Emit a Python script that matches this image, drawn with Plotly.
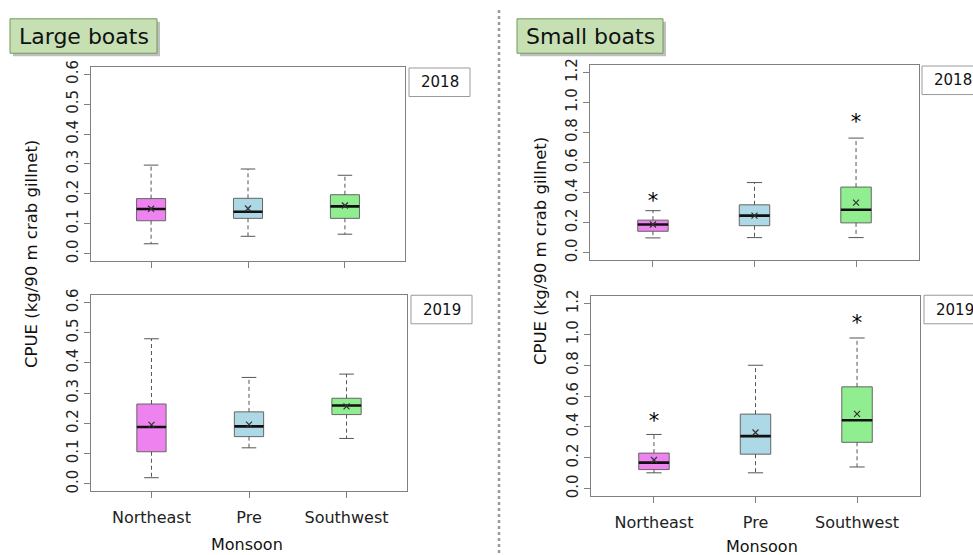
import plotly.graph_objects as go

W, H = 973, 555

categories = ["Northeast", "Pre", "Southwest"]
positions = [1, 2, 3]
fill_colors = ["#ee82ee", "#add8e6", "#90ee90"]

# Large boats 2018
large18_lower = [0.033, 0.058, 0.065]
large18_q1 = [0.110, 0.118, 0.118]
large18_median = [0.149, 0.140, 0.158]
large18_q3 = [0.184, 0.185, 0.197]
large18_upper = [0.296, 0.283, 0.262]
large18_mean = [0.150, 0.151, 0.161]
large18_star = [None, None, None]

# Large boats 2019
large19_lower = [0.020, 0.119, 0.150]
large19_q1 = [0.106, 0.156, 0.229]
large19_median = [0.188, 0.190, 0.259]
large19_q3 = [0.264, 0.238, 0.283]
large19_upper = [0.480, 0.352, 0.363]
large19_mean = [0.195, 0.196, 0.256]
large19_star = [None, None, None]

# Small boats 2018
small18_lower = [0.098, 0.100, 0.100]
small18_q1 = [0.142, 0.179, 0.198]
small18_median = [0.187, 0.246, 0.285]
small18_q3 = [0.216, 0.318, 0.436]
small18_upper = [0.279, 0.466, 0.762]
small18_mean = [0.187, 0.246, 0.333]
small18_star = [0.33, None, 0.858]

# Small boats 2019
small19_lower = [0.102, 0.102, 0.140]
small19_q1 = [0.123, 0.223, 0.300]
small19_median = [0.168, 0.340, 0.443]
small19_q3 = [0.230, 0.483, 0.660]
small19_upper = [0.351, 0.800, 0.977]
small19_mean = [0.185, 0.364, 0.485]
small19_star = [0.43, None, 1.06]

large_ticks = [0.0, 0.1, 0.2, 0.3, 0.4, 0.5, 0.6]
small_ticks = [0.0, 0.2, 0.4, 0.6, 0.8, 1.0, 1.2]

FONT = "DejaVu Sans"
BOX_W = 0.30
CAP_HALF = 0.075


def px(x):
    return x / W


def py(y):
    return 1 - y / H


panels = [
    ("1", (large18_lower, large18_q1, large18_median, large18_q3, large18_upper, large18_mean, large18_star),
     (91, 405), (61, 258), large_ticks, False),
    ("2", (large19_lower, large19_q1, large19_median, large19_q3, large19_upper, large19_mean, large19_star),
     (91, 407), (293, 492), large_ticks, True),
    ("3", (small18_lower, small18_q1, small18_median, small18_q3, small18_upper, small18_mean, small18_star),
     (590, 919), (59, 257), small_ticks, False),
    ("4", (small19_lower, small19_q1, small19_median, small19_q3, small19_upper, small19_mean, small19_star),
     (591, 920), (294, 497), small_ticks, True),
]

fig = go.Figure()
layout = {}

for name, data, xd, yd, ticks, showlab in panels:
    lower, q1, med, q3, upper, mean, star = data
    xa = "x" if name == "1" else "x" + name
    ya = "y" if name == "1" else "y" + name
    span = ticks[-1] - ticks[0]
    yr = [ticks[0] - 0.04 * span, ticks[-1] + 0.04 * span]

    for i, p in enumerate(positions):
        fig.add_trace(go.Box(
            x=[p], q1=[q1[i]], median=[med[i]], q3=[q3[i]],
            lowerfence=[q1[i]], upperfence=[q3[i]],
            width=BOX_W, whiskerwidth=0, fillcolor=fill_colors[i],
            line=dict(color="#666666", width=1), boxpoints=False,
            xaxis=xa, yaxis=ya, showlegend=False, hoverinfo="skip"))

    wx, wy = [], []
    for i, p in enumerate(positions):
        wx += [p, p, None, p, p, None]
        wy += [q3[i], upper[i], None, q1[i], lower[i], None]
    fig.add_trace(go.Scatter(x=wx, y=wy, mode="lines",
                             line=dict(color="#555555", width=1, dash="4px,3px"),
                             xaxis=xa, yaxis=ya, showlegend=False, hoverinfo="skip"))
    cx, cy = [], []
    for i, p in enumerate(positions):
        cx += [p - CAP_HALF, p + CAP_HALF, None, p - CAP_HALF, p + CAP_HALF, None]
        cy += [upper[i], upper[i], None, lower[i], lower[i], None]
    fig.add_trace(go.Scatter(x=cx, y=cy, mode="lines",
                             line=dict(color="#555555", width=1),
                             xaxis=xa, yaxis=ya, showlegend=False, hoverinfo="skip"))
    mx, my = [], []
    for i, p in enumerate(positions):
        mx += [p - BOX_W / 2, p + BOX_W / 2, None]
        my += [med[i], med[i], None]
    fig.add_trace(go.Scatter(x=mx, y=my, mode="lines",
                             line=dict(color="#111111", width=2.6),
                             xaxis=xa, yaxis=ya, showlegend=False, hoverinfo="skip"))
    fig.add_trace(go.Scatter(x=positions, y=mean, mode="markers",
                             marker=dict(symbol="x-thin", size=6, line=dict(color="#333333", width=1.2)),
                             xaxis=xa, yaxis=ya, showlegend=False, hoverinfo="skip"))
    sx = [p for p, s in zip(positions, star) if s is not None]
    sy = [s for s in star if s is not None]
    if sx:
        fig.add_trace(go.Scatter(x=sx, y=sy, mode="text", text=["*"] * len(sx),
                                 textposition="middle center",
                                 textfont=dict(family=FONT, size=21, color="#000000"),
                                 xaxis=xa, yaxis=ya, showlegend=False, hoverinfo="skip"))

    layout["xaxis" + ("" if name == "1" else name)] = dict(
        domain=[px(xd[0]), px(xd[1])], range=[0.38, 3.62], anchor=ya,
        tickmode="array", tickvals=positions, ticktext=categories,
        showticklabels=showlab, ticks="outside", ticklen=6, tickcolor="#808080",
        showline=True, mirror=True, linecolor="#808080", linewidth=1.3,
        showgrid=False, zeroline=False, ticklabelstandoff=6,
        tickfont=dict(family=FONT, size=16, color="#222222"))
    layout["yaxis" + ("" if name == "1" else name)] = dict(
        domain=[py(yd[1]), py(yd[0])], range=yr, anchor=xa,
        tickmode="array", tickvals=ticks, ticktext=[f"{t:.1f}" for t in ticks],
        tickangle=-90, ticks="outside", ticklen=6, tickcolor="#808080",
        showline=True, mirror=True, linecolor="#808080", linewidth=1.3,
        showgrid=False, zeroline=False,
        tickfont=dict(family=FONT, size=15, color="#222222"))

annotations = []
shapes = []

# group title boxes (shadow + box + text)
for label, x0, x1, y0, y1 in [("Large boats", 10, 157, 12, 47), ("Small boats", 517, 663, 12, 47)]:
    shapes.append(dict(type="rect", xref="paper", yref="paper",
                       x0=px(x0 + 3), x1=px(x1 + 3), y0=py(y1 + 3), y1=py(y0 + 3),
                       fillcolor="rgba(0,0,0,0.25)", line=dict(width=0)))
    shapes.append(dict(type="rect", xref="paper", yref="paper",
                       x0=px(x0), x1=px(x1), y0=py(y1), y1=py(y0),
                       fillcolor="#c6e0b4", line=dict(color="#6f9b5c", width=1)))
    annotations.append(dict(text=label, xref="paper", yref="paper",
                            x=px((x0 + x1) / 2), y=py((y0 + y1) / 2),
                            xanchor="center", yanchor="middle", showarrow=False,
                            font=dict(family=FONT, size=22, color="#111111")))

# year boxes
for label, x0, y0 in [("2018", 409, 62), ("2019", 411, 293), ("2018", 922, 60), ("2019", 924, 293)]:
    shapes.append(dict(type="rect", xref="paper", yref="paper",
                       x0=px(x0), x1=px(x0 + 61), y0=py(y0 + 29), y1=py(y0),
                       fillcolor="white", line=dict(color="#9a9a9a", width=1)))
    annotations.append(dict(text=label, xref="paper", yref="paper",
                            x=px(x0 + 30.5), y=py(y0 + 14.5),
                            xanchor="center", yanchor="middle", showarrow=False,
                            font=dict(family=FONT, size=15, color="#111111")))

for x0, yc in [(32, 251), (541, 248)]:
    annotations.append(dict(text="CPUE (kg/90 m crab gillnet)", xref="paper", yref="paper",
                            x=px(x0), y=py(yc), xanchor="center", yanchor="middle",
                            textangle=-90, showarrow=False,
                            font=dict(family=FONT, size=16.5, color="#111111")))

for x0, yc in [(247, 546), (762, 548)]:
    annotations.append(dict(text="Monsoon", xref="paper", yref="paper",
                            x=px(x0), y=py(yc), xanchor="center", yanchor="middle",
                            showarrow=False,
                            font=dict(family=FONT, size=16, color="#111111")))

shapes.append(dict(type="line", xref="paper", yref="paper",
                   x0=px(499), x1=px(499), y0=0, y1=1,
                   line=dict(color="#9a9a9a", width=2.5, dash="dot")))

fig.update_layout(
    width=W, height=H, margin=dict(l=0, r=0, t=0, b=0),
    paper_bgcolor="white", plot_bgcolor="white",
    showlegend=False, annotations=annotations, shapes=shapes,
    font=dict(family=FONT), **layout)

fig.write_html("out.html", config={"displayModeBar": False},
               post_script="document.body.style.margin='0px';document.body.style.overflow='hidden';")
